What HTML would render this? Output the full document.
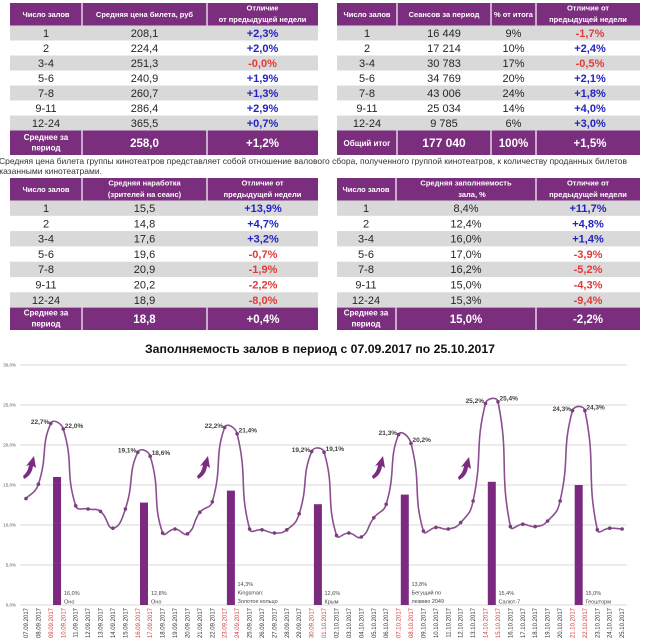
<!DOCTYPE html>
<html><head><meta charset="utf-8"><style>
html,body{margin:0;padding:0;background:#fff;width:650px;height:641px;overflow:hidden}
svg{display:block}
</style></head><body>
<svg width="650" height="641" viewBox="0 0 650 641" xmlns="http://www.w3.org/2000/svg" font-family="Liberation Sans, DejaVu Sans, sans-serif">
<rect width="650" height="641" fill="#fff"/>

<!-- ============ TABLE 1 ============ -->
<g>
<rect x="10" y="3" width="308" height="22.5" fill="#7b2d7e"/>
<rect x="10" y="25.5" width="308" height="15" fill="#d9d9d9"/>
<rect x="10" y="55.5" width="308" height="15" fill="#d9d9d9"/>
<rect x="10" y="85.5" width="308" height="15" fill="#d9d9d9"/>
<rect x="10" y="115.5" width="308" height="15" fill="#d9d9d9"/>
<rect x="10" y="130.5" width="308" height="24.5" fill="#7b2d7e"/>
<g stroke="#fff" stroke-width="1.2"><line x1="82" y1="3" x2="82" y2="25.5"/><line x1="207" y1="3" x2="207" y2="25.5"/><line x1="82" y1="130.5" x2="82" y2="155"/><line x1="207" y1="130.5" x2="207" y2="155"/></g>
<g fill="#fff" font-weight="bold" font-size="7.5" text-anchor="middle">
<text x="46" y="17">Число залов</text>
<text x="144.5" y="17">Средняя цена билета, руб</text>
<text x="262.5" y="10.5">Отличие</text>
<text x="262.5" y="22">от предыдущей недели</text>
</g>
<g fill="#262626" font-size="11" text-anchor="middle">
<text x="46" y="36.8">1</text><text x="144.5" y="36.8">208,1</text>
<text x="46" y="51.8">2</text><text x="144.5" y="51.8">224,4</text>
<text x="46" y="66.8">3-4</text><text x="144.5" y="66.8">251,3</text>
<text x="46" y="81.8">5-6</text><text x="144.5" y="81.8">240,9</text>
<text x="46" y="96.8">7-8</text><text x="144.5" y="96.8">260,7</text>
<text x="46" y="111.8">9-11</text><text x="144.5" y="111.8">286,4</text>
<text x="46" y="126.8">12-24</text><text x="144.5" y="126.8">365,5</text>
</g>
<g font-size="11" font-weight="bold" text-anchor="middle">
<text x="262.5" y="36.8" fill="#2424c0">+2,3%</text>
<text x="262.5" y="51.8" fill="#2424c0">+2,0%</text>
<text x="262.5" y="66.8" fill="#e03a3a">-0,0%</text>
<text x="262.5" y="81.8" fill="#2424c0">+1,9%</text>
<text x="262.5" y="96.8" fill="#2424c0">+1,3%</text>
<text x="262.5" y="111.8" fill="#2424c0">+2,9%</text>
<text x="262.5" y="126.8" fill="#2424c0">+0,7%</text>
</g>
<g fill="#fff" font-weight="bold" text-anchor="middle">
<text x="46" y="140" font-size="8">Среднее за</text>
<text x="46" y="150.5" font-size="8">период</text>
<text x="144.5" y="147" font-size="11.5">258,0</text>
<text x="262.5" y="147" font-size="11.5">+1,2%</text>
</g>
</g>

<!-- ============ TABLE 2 ============ -->
<g>
<rect x="337" y="3" width="303" height="22.5" fill="#7b2d7e"/>
<rect x="337" y="25.5" width="303" height="15" fill="#d9d9d9"/>
<rect x="337" y="55.5" width="303" height="15" fill="#d9d9d9"/>
<rect x="337" y="85.5" width="303" height="15" fill="#d9d9d9"/>
<rect x="337" y="115.5" width="303" height="15" fill="#d9d9d9"/>
<rect x="337" y="130.5" width="303" height="24.5" fill="#7b2d7e"/>
<g stroke="#fff" stroke-width="1.2"><line x1="397" y1="3" x2="397" y2="25.5"/><line x1="491" y1="3" x2="491" y2="25.5"/><line x1="536" y1="3" x2="536" y2="25.5"/><line x1="397" y1="130.5" x2="397" y2="155"/><line x1="491" y1="130.5" x2="491" y2="155"/><line x1="536" y1="130.5" x2="536" y2="155"/></g>
<g fill="#fff" font-weight="bold" font-size="7.5" text-anchor="middle">
<text x="367" y="17">Число залов</text>
<text x="444" y="17">Сеансов за период</text>
<text x="513.5" y="17">% от итога</text>
<text x="588" y="10.5">Отличие от</text>
<text x="588" y="22">предыдущей недели</text>
</g>
<g fill="#262626" font-size="11" text-anchor="middle">
<text x="367" y="36.8">1</text><text x="444" y="36.8">16 449</text><text x="513.5" y="36.8">9%</text>
<text x="367" y="51.8">2</text><text x="444" y="51.8">17 214</text><text x="513.5" y="51.8">10%</text>
<text x="367" y="66.8">3-4</text><text x="444" y="66.8">30 783</text><text x="513.5" y="66.8">17%</text>
<text x="367" y="81.8">5-6</text><text x="444" y="81.8">34 769</text><text x="513.5" y="81.8">20%</text>
<text x="367" y="96.8">7-8</text><text x="444" y="96.8">43 006</text><text x="513.5" y="96.8">24%</text>
<text x="367" y="111.8">9-11</text><text x="444" y="111.8">25 034</text><text x="513.5" y="111.8">14%</text>
<text x="367" y="126.8">12-24</text><text x="444" y="126.8">9 785</text><text x="513.5" y="126.8">6%</text>
</g>
<g font-size="11" font-weight="bold" text-anchor="middle">
<text x="590" y="36.8" fill="#e03a3a">-1,7%</text>
<text x="590" y="51.8" fill="#2424c0">+2,4%</text>
<text x="590" y="66.8" fill="#e03a3a">-0,5%</text>
<text x="590" y="81.8" fill="#2424c0">+2,1%</text>
<text x="590" y="96.8" fill="#2424c0">+1,8%</text>
<text x="590" y="111.8" fill="#2424c0">+4,0%</text>
<text x="590" y="126.8" fill="#2424c0">+3,0%</text>
</g>
<g fill="#fff" font-weight="bold" text-anchor="middle">
<text x="367" y="146" font-size="8">Общий итог</text>
<text x="444" y="147" font-size="12">177 040</text>
<text x="513.5" y="147" font-size="11.5">100%</text>
<text x="590" y="147" font-size="11.5">+1,5%</text>
</g>
</g>

<!-- caption -->
<g fill="#333" font-size="8.5">
<text x="-1" y="164" textLength="628" lengthAdjust="spacingAndGlyphs">Средняя цена билета группы кинотеатров представляет собой отношение валового сбора, полученного группой кинотеатров, к количеству проданных билетов</text>
<text x="-5" y="174">указанными кинотеатрами.</text>
</g>

<!-- ============ TABLE 3 ============ -->
<g>
<rect x="10" y="178" width="308" height="22.5" fill="#7b2d7e"/>
<rect x="10" y="200.5" width="308" height="15.3" fill="#d9d9d9"/>
<rect x="10" y="231.1" width="308" height="15.3" fill="#d9d9d9"/>
<rect x="10" y="261.7" width="308" height="15.3" fill="#d9d9d9"/>
<rect x="10" y="292.3" width="308" height="15.3" fill="#d9d9d9"/>
<rect x="10" y="307.6" width="308" height="22.4" fill="#7b2d7e"/>
<g stroke="#fff" stroke-width="1.2"><line x1="82" y1="178" x2="82" y2="200.5"/><line x1="207" y1="178" x2="207" y2="200.5"/><line x1="82" y1="307.6" x2="82" y2="330"/><line x1="207" y1="307.6" x2="207" y2="330"/></g>
<g fill="#fff" font-weight="bold" font-size="7.5" text-anchor="middle">
<text x="46" y="192">Число залов</text>
<text x="144.5" y="185.5">Средняя наработка</text>
<text x="144.5" y="197">(зрителей на сеанс)</text>
<text x="262.5" y="185.5">Отличие от</text>
<text x="262.5" y="197">предыдущей недели</text>
</g>
<g fill="#262626" font-size="11" text-anchor="middle">
<text x="46" y="212">1</text><text x="144.5" y="212">15,5</text>
<text x="46" y="227.3">2</text><text x="144.5" y="227.3">14,8</text>
<text x="46" y="242.6">3-4</text><text x="144.5" y="242.6">17,6</text>
<text x="46" y="257.9">5-6</text><text x="144.5" y="257.9">19,6</text>
<text x="46" y="273.2">7-8</text><text x="144.5" y="273.2">20,9</text>
<text x="46" y="288.5">9-11</text><text x="144.5" y="288.5">20,2</text>
<text x="46" y="303.8">12-24</text><text x="144.5" y="303.8">18,9</text>
</g>
<g font-size="11" font-weight="bold" text-anchor="middle">
<text x="263" y="212" fill="#2424c0">+13,9%</text>
<text x="263" y="227.3" fill="#2424c0">+4,7%</text>
<text x="263" y="242.6" fill="#2424c0">+3,2%</text>
<text x="263" y="257.9" fill="#e03a3a">-0,7%</text>
<text x="263" y="273.2" fill="#e03a3a">-1,9%</text>
<text x="263" y="288.5" fill="#e03a3a">-2,2%</text>
<text x="263" y="303.8" fill="#e03a3a">-8,0%</text>
</g>
<g fill="#fff" font-weight="bold" text-anchor="middle">
<text x="46" y="315.5" font-size="8">Среднее за</text>
<text x="46" y="326.5" font-size="8">период</text>
<text x="144.5" y="323" font-size="11.5">18,8</text>
<text x="263" y="323" font-size="11.5">+0,4%</text>
</g>
</g>

<!-- ============ TABLE 4 ============ -->
<g>
<rect x="337" y="178" width="303" height="22.5" fill="#7b2d7e"/>
<rect x="337" y="200.5" width="303" height="15.3" fill="#d9d9d9"/>
<rect x="337" y="231.1" width="303" height="15.3" fill="#d9d9d9"/>
<rect x="337" y="261.7" width="303" height="15.3" fill="#d9d9d9"/>
<rect x="337" y="292.3" width="303" height="15.3" fill="#d9d9d9"/>
<rect x="337" y="307.6" width="303" height="22.4" fill="#7b2d7e"/>
<g stroke="#fff" stroke-width="1.2"><line x1="396" y1="178" x2="396" y2="200.5"/><line x1="536" y1="178" x2="536" y2="200.5"/><line x1="396" y1="307.6" x2="396" y2="330"/><line x1="536" y1="307.6" x2="536" y2="330"/></g>
<g fill="#fff" font-weight="bold" font-size="7.5" text-anchor="middle">
<text x="366" y="192">Число залов</text>
<text x="466" y="185.5">Средняя заполняемость</text>
<text x="472" y="197">зала, %</text>
<text x="588" y="185.5">Отличие от</text>
<text x="588" y="197">предыдущей недели</text>
</g>
<g fill="#262626" font-size="11" text-anchor="middle">
<text x="366" y="212">1</text><text x="466" y="212">8,4%</text>
<text x="366" y="227.3">2</text><text x="466" y="227.3">12,4%</text>
<text x="366" y="242.6">3-4</text><text x="466" y="242.6">16,0%</text>
<text x="366" y="257.9">5-6</text><text x="466" y="257.9">17,0%</text>
<text x="366" y="273.2">7-8</text><text x="466" y="273.2">16,2%</text>
<text x="366" y="288.5">9-11</text><text x="466" y="288.5">15,0%</text>
<text x="366" y="303.8">12-24</text><text x="466" y="303.8">15,3%</text>
</g>
<g font-size="11" font-weight="bold" text-anchor="middle">
<text x="588" y="212" fill="#2424c0">+11,7%</text>
<text x="588" y="227.3" fill="#2424c0">+4,8%</text>
<text x="588" y="242.6" fill="#2424c0">+1,4%</text>
<text x="588" y="257.9" fill="#e03a3a">-3,9%</text>
<text x="588" y="273.2" fill="#e03a3a">-5,2%</text>
<text x="588" y="288.5" fill="#e03a3a">-4,3%</text>
<text x="588" y="303.8" fill="#e03a3a">-9,4%</text>
</g>
<g fill="#fff" font-weight="bold" text-anchor="middle">
<text x="366" y="315.5" font-size="8">Среднее за</text>
<text x="366" y="326.5" font-size="8">период</text>
<text x="466" y="323" font-size="11.5">15,0%</text>
<text x="588" y="323" font-size="11.5">-2,2%</text>
</g>
</g>

<!-- ============ CHART ============ -->
<text x="145" y="353" font-size="12" font-weight="bold" fill="#111" textLength="350" lengthAdjust="spacingAndGlyphs">Заполняемость залов в период с 07.09.2017 по 25.10.2017</text>

<g stroke="#d9d9d9" stroke-width="1">
<line x1="20" y1="365" x2="627" y2="365"/>
<line x1="20" y1="405" x2="627" y2="405"/>
<line x1="20" y1="445" x2="627" y2="445"/>
<line x1="20" y1="485" x2="627" y2="485"/>
<line x1="20" y1="525" x2="627" y2="525"/>
<line x1="20" y1="565" x2="627" y2="565"/>
<line x1="20" y1="605" x2="627" y2="605"/>
</g>
<g font-size="4.5" fill="#555" text-anchor="end">
<text x="16" y="366.5">30,0%</text>
<text x="16" y="406.5">25,0%</text>
<text x="16" y="446.5">20,0%</text>
<text x="16" y="486.5">15,0%</text>
<text x="16" y="526.5">10,0%</text>
<text x="16" y="566.5">5,0%</text>
<text x="16" y="606.5">0,0%</text>
</g>

<!-- bars -->
<g fill="#7b2a80">
<rect x="53.05" y="477" width="8" height="128"/>
<rect x="140" y="502.6" width="8" height="102.4"/>
<rect x="226.9" y="490.6" width="8" height="114.4"/>
<rect x="313.9" y="504.2" width="8" height="100.8"/>
<rect x="400.8" y="494.6" width="8" height="110.4"/>
<rect x="487.8" y="481.8" width="8" height="123.2"/>
<rect x="574.7" y="485" width="8" height="120"/>
</g>
<g font-size="5.5" fill="#444">
<text x="64" y="595">16,0%</text><text x="64" y="603.5">Оно</text>
<text x="151" y="595">12,8%</text><text x="151" y="603.5">Оно</text>
<text x="237.5" y="586">14,3%</text><text x="237.5" y="594.5">Kingsman:</text><text x="237.5" y="603">Золотое кольцо</text>
<text x="324.5" y="595">12,6%</text><text x="324.5" y="603.5">Крым</text>
<text x="411.5" y="586">13,8%</text><text x="411.5" y="594.5">Бегущий по</text><text x="411.5" y="603">лезвию 2049</text>
<text x="498.5" y="595">15,4%</text><text x="498.5" y="603.5">Салют-7</text>
<text x="585.5" y="595">15,0%</text><text x="585.5" y="603.5">Геошторм</text>
</g>

<!-- arrows -->
<g fill="#7b2c80">
<path d="M23,476 Q28,472 29,465 L26,466 L34,456 L36,468 L33,466 Q32,475 24,479 Z"/>
<path d="M197,476 Q202,472 203,465 L200,466 L208,456 L210,468 L207,466 Q206,475 198,479 Z"/>
<path d="M372,476 Q377,472 378,465 L375,466 L383,456 L385,468 L382,466 Q381,475 373,479 Z"/>
<path d="M458,477 Q463,473 464,466 L461,467 L469,457 L471,469 L468,467 Q467,476 459,480 Z"/>
</g>

<!-- line -->
<path fill="none" stroke="#8b4f8f" stroke-width="1.6" d="M26.0,498.6 C29.7,494.3 35.5,493.0 38.4,484.2 C47.9,455.4 40.6,446.0 50.8,423.4 C53.0,418.4 61.4,422.9 63.3,429.0 C73.9,464.1 65.0,471.5 75.7,505.8 C77.5,511.5 81.9,507.6 88.1,509.0 C94.3,510.4 95.8,507.8 100.5,511.4 C108.2,517.4 107.0,528.8 112.9,528.2 C119.4,527.6 121.9,519.7 125.4,509.0 C134.3,481.7 127.7,473.8 137.8,452.2 C140.1,447.4 148.4,450.4 150.2,456.2 C160.8,490.8 152.0,501.8 162.6,533.0 C164.4,538.2 168.9,528.8 175.0,529.0 C181.3,529.2 183.2,536.7 187.5,533.8 C195.6,528.3 192.4,521.9 199.9,512.2 C204.8,505.9 210.1,509.3 212.3,501.8 C222.5,466.9 214.2,456.1 224.7,427.4 C226.6,422.1 235.5,427.4 237.1,433.8 C247.9,478.2 238.6,486.5 249.6,529.0 C251.0,534.5 255.9,528.8 262.0,529.8 C268.3,530.8 268.2,533.0 274.4,533.0 C280.6,533.0 282.0,533.5 286.8,529.8 C294.4,523.9 296.2,523.3 299.2,513.8 C308.6,484.1 301.3,477.2 311.7,451.4 C313.7,446.4 322.5,446.8 324.1,452.2 C334.9,488.8 325.7,500.3 336.5,535.4 C338.1,540.7 342.8,532.6 348.9,533.0 C355.2,533.4 356.8,539.8 361.3,537.0 C369.2,532.2 366.9,526.9 373.8,517.8 C379.3,510.5 383.6,512.8 386.2,504.2 C396.1,471.2 388.4,459.6 398.6,434.6 C400.8,429.2 409.2,436.3 411.0,443.4 C421.6,484.5 412.6,494.4 423.4,531.0 C425.0,536.4 429.6,527.9 435.9,527.4 C442.0,526.9 442.4,530.1 448.3,529.0 C454.9,527.7 456.2,527.6 460.7,522.6 C468.7,513.6 470.6,513.0 473.1,501.0 C483.0,453.4 474.5,447.4 485.5,403.4 C486.9,397.8 496.9,396.2 498.0,401.8 C509.3,457.8 499.1,471.0 510.4,526.6 C511.5,532.2 516.6,524.2 522.8,524.2 C529.0,524.2 529.2,527.4 535.2,526.6 C541.6,525.8 543.1,525.7 547.6,521.0 C555.5,512.9 557.6,512.3 560.1,501.0 C570.0,457.1 561.6,450.4 572.5,410.6 C574.0,405.2 583.7,405.0 584.9,410.6 C596.2,464.6 586.1,476.6 597.3,529.8 C598.5,535.4 603.5,528.4 609.7,528.2 C615.9,528.0 618.4,528.8 622.1,529.0"/>

<!-- markers -->
<g fill="#7a3d7e">
<circle cx="26.0" cy="498.6" r="1.8"/><circle cx="38.4" cy="484.2" r="1.8"/><circle cx="50.8" cy="423.4" r="1.8"/><circle cx="63.3" cy="429.0" r="1.8"/><circle cx="75.7" cy="505.8" r="1.8"/><circle cx="88.1" cy="509.0" r="1.8"/><circle cx="100.5" cy="511.4" r="1.8"/><circle cx="112.9" cy="528.2" r="1.8"/><circle cx="125.4" cy="509.0" r="1.8"/><circle cx="137.8" cy="452.2" r="1.8"/><circle cx="150.2" cy="456.2" r="1.8"/><circle cx="162.6" cy="533.0" r="1.8"/><circle cx="175.0" cy="529.0" r="1.8"/><circle cx="187.5" cy="533.8" r="1.8"/><circle cx="199.9" cy="512.2" r="1.8"/><circle cx="212.3" cy="501.8" r="1.8"/><circle cx="224.7" cy="427.4" r="1.8"/><circle cx="237.1" cy="433.8" r="1.8"/><circle cx="249.6" cy="529.0" r="1.8"/><circle cx="262.0" cy="529.8" r="1.8"/><circle cx="274.4" cy="533.0" r="1.8"/><circle cx="286.8" cy="529.8" r="1.8"/><circle cx="299.2" cy="513.8" r="1.8"/><circle cx="311.7" cy="451.4" r="1.8"/><circle cx="324.1" cy="452.2" r="1.8"/><circle cx="336.5" cy="535.4" r="1.8"/><circle cx="348.9" cy="533.0" r="1.8"/><circle cx="361.3" cy="537.0" r="1.8"/><circle cx="373.8" cy="517.8" r="1.8"/><circle cx="386.2" cy="504.2" r="1.8"/><circle cx="398.6" cy="434.6" r="1.8"/><circle cx="411.0" cy="443.4" r="1.8"/><circle cx="423.4" cy="531.0" r="1.8"/><circle cx="435.9" cy="527.4" r="1.8"/><circle cx="448.3" cy="529.0" r="1.8"/><circle cx="460.7" cy="522.6" r="1.8"/><circle cx="473.1" cy="501.0" r="1.8"/><circle cx="485.5" cy="403.4" r="1.8"/><circle cx="498.0" cy="401.8" r="1.8"/><circle cx="510.4" cy="526.6" r="1.8"/><circle cx="522.8" cy="524.2" r="1.8"/><circle cx="535.2" cy="526.6" r="1.8"/><circle cx="547.6" cy="521.0" r="1.8"/><circle cx="560.1" cy="501.0" r="1.8"/><circle cx="572.5" cy="410.6" r="1.8"/><circle cx="584.9" cy="410.6" r="1.8"/><circle cx="597.3" cy="529.8" r="1.8"/><circle cx="609.7" cy="528.2" r="1.8"/><circle cx="622.1" cy="529.0" r="1.8"/>
</g>

<!-- peak labels -->
<g font-size="6.5" font-weight="bold" fill="#404040">
<g text-anchor="end">
<text x="49.3" y="424">22,7%</text>
<text x="136.3" y="452.5">19,1%</text>
<text x="223.2" y="428">22,2%</text>
<text x="310.2" y="452">19,2%</text>
<text x="397.1" y="435">21,3%</text>
<text x="484" y="403">25,2%</text>
<text x="571" y="411">24,3%</text>
</g>
<text x="64.8" y="428">22,0%</text>
<text x="151.7" y="455">18,6%</text>
<text x="238.6" y="432.5">21,4%</text>
<text x="325.6" y="451">19,1%</text>
<text x="412.5" y="442">20,2%</text>
<text x="499.5" y="400.5">25,4%</text>
<text x="586.4" y="409.5">24,3%</text>
</g>

<!-- date labels -->
<g font-size="6" fill="#333" text-anchor="end">
<text transform="translate(28,608) rotate(-90)">07.09.2017</text>
<text transform="translate(40.4,608) rotate(-90)">08.09.2017</text>
<text transform="translate(52.8,608) rotate(-90)" fill="#d03a3a">09.09.2017</text>
<text transform="translate(65.3,608) rotate(-90)" fill="#d03a3a">10.09.2017</text>
<text transform="translate(77.7,608) rotate(-90)">11.09.2017</text>
<text transform="translate(90.1,608) rotate(-90)">12.09.2017</text>
<text transform="translate(102.5,608) rotate(-90)">13.09.2017</text>
<text transform="translate(114.9,608) rotate(-90)">14.09.2017</text>
<text transform="translate(127.4,608) rotate(-90)">15.09.2017</text>
<text transform="translate(139.8,608) rotate(-90)" fill="#d03a3a">16.09.2017</text>
<text transform="translate(152.2,608) rotate(-90)" fill="#d03a3a">17.09.2017</text>
<text transform="translate(164.6,608) rotate(-90)">18.09.2017</text>
<text transform="translate(177,608) rotate(-90)">19.09.2017</text>
<text transform="translate(189.5,608) rotate(-90)">20.09.2017</text>
<text transform="translate(201.9,608) rotate(-90)">21.09.2017</text>
<text transform="translate(214.3,608) rotate(-90)">22.09.2017</text>
<text transform="translate(226.7,608) rotate(-90)" fill="#d03a3a">23.09.2017</text>
<text transform="translate(239.1,608) rotate(-90)" fill="#d03a3a">24.09.2017</text>
<text transform="translate(251.6,608) rotate(-90)">25.09.2017</text>
<text transform="translate(264,608) rotate(-90)">26.09.2017</text>
<text transform="translate(276.4,608) rotate(-90)">27.09.2017</text>
<text transform="translate(288.8,608) rotate(-90)">28.09.2017</text>
<text transform="translate(301.2,608) rotate(-90)">29.09.2017</text>
<text transform="translate(313.7,608) rotate(-90)" fill="#d03a3a">30.09.2017</text>
<text transform="translate(326.1,608) rotate(-90)" fill="#d03a3a">01.10.2017</text>
<text transform="translate(338.5,608) rotate(-90)">02.10.2017</text>
<text transform="translate(350.9,608) rotate(-90)">03.10.2017</text>
<text transform="translate(363.3,608) rotate(-90)">04.10.2017</text>
<text transform="translate(375.8,608) rotate(-90)">05.10.2017</text>
<text transform="translate(388.2,608) rotate(-90)">06.10.2017</text>
<text transform="translate(400.6,608) rotate(-90)" fill="#d03a3a">07.10.2017</text>
<text transform="translate(413,608) rotate(-90)" fill="#d03a3a">08.10.2017</text>
<text transform="translate(425.4,608) rotate(-90)">09.10.2017</text>
<text transform="translate(437.9,608) rotate(-90)">10.10.2017</text>
<text transform="translate(450.3,608) rotate(-90)">11.10.2017</text>
<text transform="translate(462.7,608) rotate(-90)">12.10.2017</text>
<text transform="translate(475.1,608) rotate(-90)">13.10.2017</text>
<text transform="translate(487.5,608) rotate(-90)" fill="#d03a3a">14.10.2017</text>
<text transform="translate(500,608) rotate(-90)" fill="#d03a3a">15.10.2017</text>
<text transform="translate(512.4,608) rotate(-90)">16.10.2017</text>
<text transform="translate(524.8,608) rotate(-90)">17.10.2017</text>
<text transform="translate(537.2,608) rotate(-90)">18.10.2017</text>
<text transform="translate(549.6,608) rotate(-90)">19.10.2017</text>
<text transform="translate(562.1,608) rotate(-90)">20.10.2017</text>
<text transform="translate(574.5,608) rotate(-90)" fill="#d03a3a">21.10.2017</text>
<text transform="translate(586.9,608) rotate(-90)" fill="#d03a3a">22.10.2017</text>
<text transform="translate(599.3,608) rotate(-90)">23.10.2017</text>
<text transform="translate(611.7,608) rotate(-90)">24.10.2017</text>
<text transform="translate(624.1,608) rotate(-90)">25.10.2017</text>
</g>
</svg>
</body></html>
